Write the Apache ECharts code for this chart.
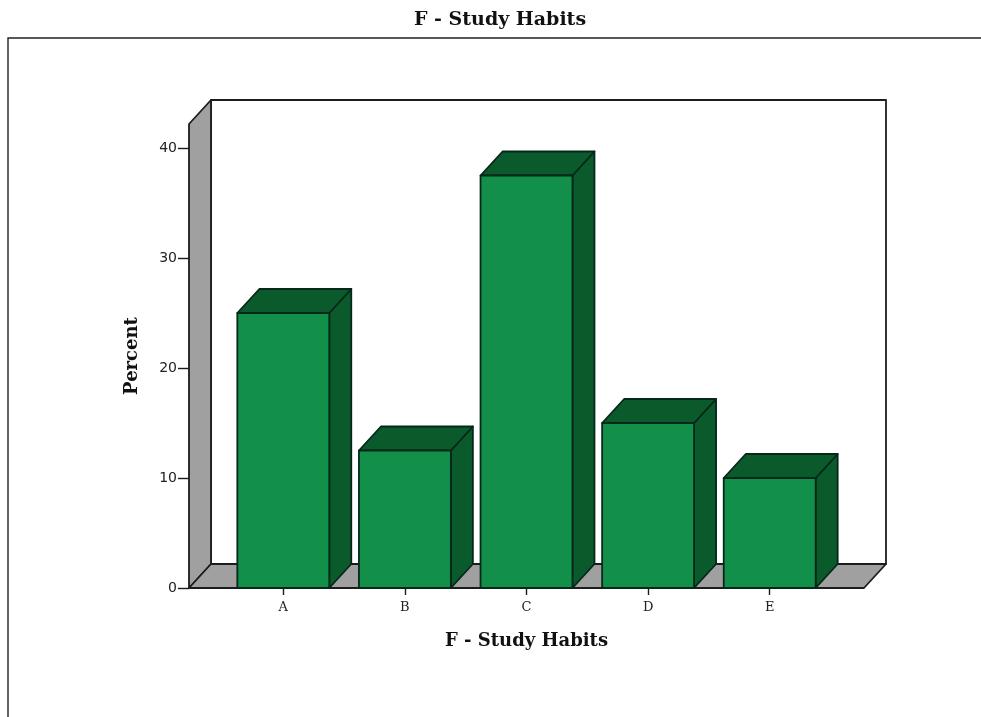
<!DOCTYPE html>
<html><head><meta charset="utf-8">
<style>html,body{margin:0;padding:0;background:#fff}#c{width:981px;height:717px}</style>
<script src="https://cdn.jsdelivr.net/npm/echarts@6/dist/echarts.min.js"></script>
</head><body><div id="c"></div>
<script>
const categories = ['A', 'B', 'C', 'D', 'E'];
const percents = [25, 12.5, 37.5, 15, 10];
const axisName = 'F - Study Habits';
const yTitle = 'Percent';
const yTicks = [0, 10, 20, 30, 40];

const DX = 22, DY = 24, AXIS_PAD = 33.5, BAR_RATIO = 0.756;
const FONT = 'DejaVu Serif';
const XLABEL_FONT = 'DejaVu Serif';
const YLABEL_FONT = 'DejaVu Sans';
const LINE = '#1c1c1c', EDGE = '#06281a';
const FACE = '#12904a', TOP = '#0a5a2b', SIDE = '#0a5a2b', WALL = '#a0a0a0';

function poly(points, fill, stroke, lw) {
  return { type: 'polygon', shape: { points }, style: { fill, stroke, lineWidth: lw, lineJoin: 'round' } };
}
function renderWalls(params) {
  const c = params.coordSys;
  const l = c.x - AXIS_PAD, r = c.x + c.width + AXIS_PAD, t = c.y, b = c.y + c.height;
  return { type: 'group', children: [
    poly([[l + DX, t - DY], [r + DX, t - DY], [r + DX, b - DY], [l + DX, b - DY]], '#fff', LINE, 1.8),
    poly([[l, t], [l + DX, t - DY], [l + DX, b - DY], [l, b]], WALL, LINE, 1.8),
    poly([[l, b], [l + DX, b - DY], [r + DX, b - DY], [r, b]], WALL, LINE, 1.8)
  ]};
}
function renderBar(params, api) {
  const p = api.coord([api.value(0), api.value(1)]);
  const base = api.coord([api.value(0), 0]);
  const w = api.size([1, 0])[0] * BAR_RATIO;
  const x0 = p[0] - w / 2, x1 = p[0] + w / 2, t = p[1], b = base[1];
  return { type: 'group', children: [
    poly([[x1, t], [x1 + DX, t - DY], [x1 + DX, b - DY], [x1, b]], SIDE, EDGE, 1.8),
    poly([[x0, t], [x0 + DX, t - DY], [x1 + DX, t - DY], [x1, t]], TOP, EDGE, 1.8),
    poly([[x0, t], [x1, t], [x1, b], [x0, b]], FACE, EDGE, 1.8)
  ]};
}

const chart = echarts.init(document.getElementById('c'), null, { renderer: 'canvas' });
chart.setOption({
  animation: false,
  backgroundColor: '#fff',
  title: { text: axisName, left: 409, top: 6,
    textStyle: { fontFamily: FONT, fontWeight: 'bold', fontSize: 19, color: '#111' } },
  graphic: [
    { type: 'polyline', silent: true, shape: { points: [[8, 717], [8, 38], [981, 38]] },
      style: { stroke: '#222', lineWidth: 1.4, fill: null } }
  ],
  grid: { left: 222.5, width: 608, top: 124, height: 464 },
  xAxis: {
    type: 'category', data: categories,
    name: axisName, nameLocation: 'middle', nameGap: 44,
    nameTextStyle: { fontFamily: FONT, fontWeight: 'bold', fontSize: 18, color: '#111' },
    axisLine: { show: false },
    axisTick: { show: true, alignWithLabel: true, length: 7, lineStyle: { color: LINE, width: 1.4 } },
    axisLabel: { fontFamily: XLABEL_FONT, fontSize: 13, color: '#222', margin: 13 }
  },
  yAxis: {
    type: 'value', min: 0, max: 464 / 11, interval: 10, offset: AXIS_PAD,
    name: yTitle, nameLocation: 'middle', nameGap: 48, nameRotate: 90,
    nameTextStyle: { fontFamily: FONT, fontWeight: 'bold', fontSize: 18, color: '#111' },
    axisLine: { show: false },
    axisTick: { show: true, length: 11, customValues: yTicks, lineStyle: { color: LINE, width: 1.4 } },
    axisLabel: { fontFamily: YLABEL_FONT, fontSize: 14, color: '#222', margin: 12,
      customValues: yTicks, formatter: v => String(v) },
    splitLine: { show: false }
  },
  series: [
    { type: 'custom', name: 'walls', renderItem: renderWalls, data: [[0, 0]], clip: false, z: 1, silent: true },
    { type: 'custom', name: 'Percent', renderItem: renderBar, clip: false, z: 2,
      encode: { x: 0, y: 1 }, data: percents.map((v, i) => [i, v]) }
  ]
});
</script></body></html>
